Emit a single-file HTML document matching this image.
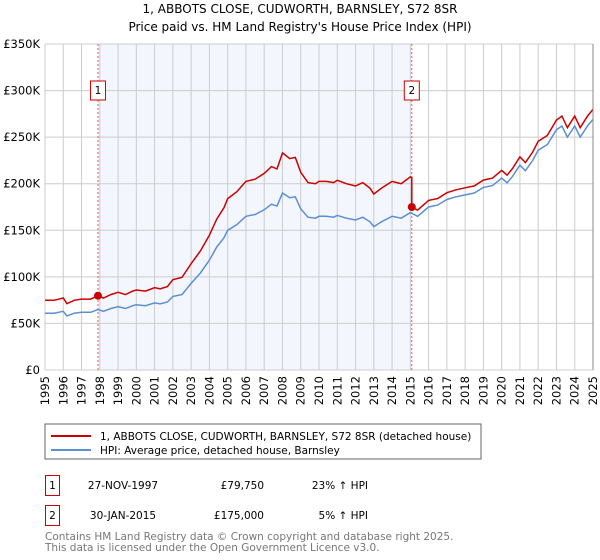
<!DOCTYPE html>
<html><head><meta charset="utf-8"><style>
body{margin:0;background:#fff;font-family:"DejaVu Sans","Liberation Sans",sans-serif;}
#c{position:relative;width:600px;height:560px;overflow:hidden}
text{font-family:"DejaVu Sans","Liberation Sans",sans-serif}
</style></head><body><div id="c">
<svg id="s" width="600" height="560" xmlns="http://www.w3.org/2000/svg">
<text x="300" y="13" text-anchor="middle" font-size="12" fill="#000">1, ABBOTS CLOSE, CUDWORTH, BARNSLEY, S72 8SR</text>
<text x="300" y="31" text-anchor="middle" font-size="12" fill="#000">Price paid vs. HM Land Registry's House Price Index (HPI)</text>
<g id="plot"></g>
<rect x="45" y="424" width="436" height="35" fill="#fff" stroke="#666"/>
<line x1="51" y1="436" x2="91" y2="436" stroke="#cc0000" stroke-width="2"/>
<text x="100" y="440" font-size="10.5">1, ABBOTS CLOSE, CUDWORTH, BARNSLEY, S72 8SR (detached house)</text>
<line x1="51" y1="450" x2="91" y2="450" stroke="#5b8fd4" stroke-width="2"/>
<text x="100" y="454" font-size="10.5">HPI: Average price, detached house, Barnsley</text>
<g>
<rect x="45.5" y="475.5" width="14" height="20" fill="#fff" stroke="#cc0000"/>
<text x="52.5" y="489" text-anchor="middle" font-size="10.5">1</text>
<text x="123" y="489" text-anchor="middle" font-size="10.5">27-NOV-1997</text>
<text x="264" y="489" text-anchor="end" font-size="10.5">£79,750</text>
<text x="368" y="489" text-anchor="end" font-size="10.5">23% ↑ HPI</text></g>
<g>
<rect x="45.5" y="505.5" width="14" height="20" fill="#fff" stroke="#cc0000"/>
<text x="52.5" y="519" text-anchor="middle" font-size="10.5">2</text>
<text x="123" y="519" text-anchor="middle" font-size="10.5">30-JAN-2015</text>
<text x="264" y="519" text-anchor="end" font-size="10.5">£175,000</text>
<text x="368" y="519" text-anchor="end" font-size="10.5">5% ↑ HPI</text></g>
<text x="45" y="540" font-size="10.5" fill="#777">Contains HM Land Registry data © Crown copyright and database right 2025.</text>
<text x="45" y="551" font-size="10.5" fill="#777">This data is licensed under the Open Government Licence v3.0.</text>
</svg></div>
<script>
const hpiYears=[1995,1995.5,1996,1996.2,1996.6,1997,1997.5,1997.9,1998.2,1998.6,1999,1999.4,1999.8,2000,2000.5,2001,2001.3,2001.7,2002,2002.5,2003,2003.5,2004,2004.4,2004.8,2005,2005.5,2006,2006.5,2007,2007.4,2007.7,2008,2008.4,2008.7,2009,2009.4,2009.8,2010,2010.4,2010.8,2011,2011.5,2012,2012.4,2012.8,2013,2013.5,2014,2014.5,2015,2015.4,2016,2016.5,2017,2017.5,2018,2018.5,2019,2019.5,2020,2020.3,2020.6,2021,2021.3,2021.7,2022,2022.5,2023,2023.3,2023.6,2024,2024.3,2024.7,2025];
const hpiValues=[61,61,63,58,61,62,62,65,63,66,68,66,69,70,69,72,71,73,79,81,93,104,118,132,142,150,156,165,167,172,178,176,190,185,186,173,164,163,165,165,164,166,163,161,164,159,154,160,165,163,169,165,175,177,183,186,188,190,196,198,206,201,208,220,214,225,236,242,258,262,250,262,250,262,269];
const saleYears=[1997.9,2015.08];
const salePrices=[79.75,175];
const saleLabels=["1","2"];
const yTicks=[0,50,100,150,200,250,300,350];
const xTickYears=[];for(let y=1995;y<=2025;y++)xTickYears.push(y);
const X0=45,X1=593,Y0=370,Y1=44;
const xs=y=>X0+(y-1995)/30*(X1-X0);
const ys=v=>Y0-v/350*(Y0-Y1);
const NS="http://www.w3.org/2000/svg";
const g=document.getElementById('plot');
function mk(t,a){const e=document.createElementNS(NS,t);for(const k in a)e.setAttribute(k,a[k]);g.appendChild(e);return e;}
const bg=mk('rect',{x:xs(saleYears[0]),y:Y1,width:xs(saleYears[1])-xs(saleYears[0]),height:Y0-Y1,fill:'#eef2fc',opacity:0.7});


yTicks.forEach(v=>{const l=mk('line',{x1:X0,x2:X1,y1:ys(v),y2:ys(v),stroke:'#ccc'});


const t=mk('text',{x:40,y:ys(v)+4,'text-anchor':'end','font-size':'11.5'});t.textContent=v===0?'£0':'£'+v+'K';

});
xTickYears.forEach(y=>{const l=mk('line',{x1:xs(y),x2:xs(y),y1:Y1,y2:Y0,stroke:'#ccc'});


const t=mk('text',{x:0,y:0,'font-size':'11.5','text-anchor':'end',transform:`translate(${xs(y)+4},376) rotate(-90)`});t.textContent=y;

});
const interp=y=>{for(let i=1;i<hpiYears.length;i++)if(y<=hpiYears[i]){const f=(y-hpiYears[i-1])/(hpiYears[i]-hpiYears[i-1]);return hpiValues[i-1]+f*(hpiValues[i]-hpiValues[i-1]);}return hpiValues[hpiValues.length-1];};
const ratios=saleYears.map((y,i)=>salePrices[i]/interp(y));
saleYears.forEach((y,i)=>{const l=mk('line',{x1:xs(y),x2:xs(y),y1:Y1,y2:Y0,stroke:'#e06060','stroke-dasharray':'2,2'});


const r=mk('rect',{x:xs(y)-7.5,y:81,width:15,height:19,fill:'#fff',stroke:'#cc0000'});


const t=mk('text',{x:xs(y),y:94,'text-anchor':'middle','font-size':'10.5'});t.textContent=saleLabels[i];

});
const bp=hpiYears.map((y,i)=>xs(y).toFixed(1)+','+ys(hpiValues[i]).toFixed(1)).join(' ');
const bl=mk('polyline',{points:bp,fill:'none',stroke:'#5b8fd4','stroke-width':1.5});


const rp=[];
hpiYears.forEach((y,i)=>{if(y<saleYears[1]){rp.push([y,hpiValues[i]*ratios[0]]);}});
rp.push([saleYears[1],interp(saleYears[1])*ratios[0]]);
rp.push([saleYears[1],salePrices[1]]);
hpiYears.forEach((y,i)=>{if(y>saleYears[1])rp.push([y,hpiValues[i]*ratios[1]]);});
const rl=mk('polyline',{points:rp.map(p=>xs(p[0]).toFixed(1)+','+ys(p[1]).toFixed(1)).join(' '),fill:'none',stroke:'#cc0000','stroke-width':1.5});


saleYears.forEach((y,i)=>{const c=mk('circle',{cx:xs(y),cy:ys(salePrices[i]),r:4,fill:'#cc0000'});

});
const ax=mk('line',{x1:X1,x2:X1,y1:Y1,y2:Y0,stroke:'#888'});


</script></body></html>
